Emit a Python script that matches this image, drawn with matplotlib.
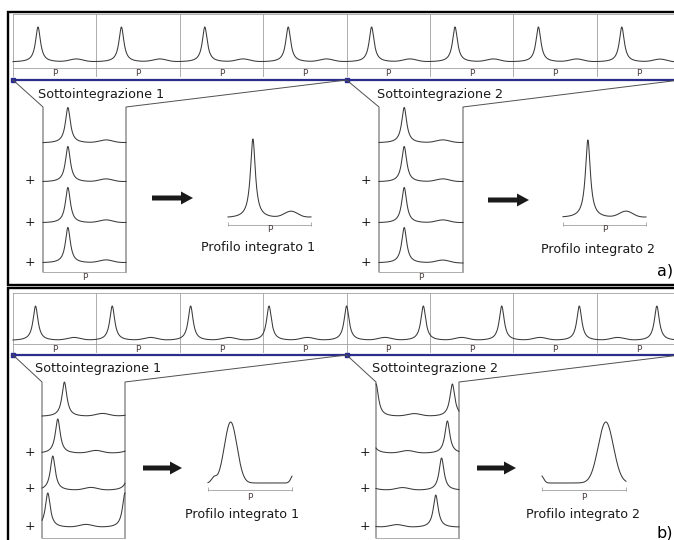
import numpy as np
import matplotlib
matplotlib.use('Agg')
from matplotlib import pyplot as plt

# pulse arrival times, in units of the folding period (one strip cell)
pulses_a = [0.30, 1.30, 2.30, 3.30, 4.30, 5.30, 6.30, 7.30]
pulses_b = [0.27, 1.19, 2.13, 3.07, 4.00, 4.92, 5.86, 6.79, 7.72]
peak_width = 0.036
hump_shift = 0.46
hump_height = 0.08
hump_sigma = 0.08

# integrated profiles of panel b: (center, sigma, height)
int_b1 = [(0.27, 0.075, 1.0), (0.07, 0.03, 0.08), (1.02, 0.03, 0.14)]
int_b2 = [(0.76, 0.09, 1.0), (-0.01, 0.03, 0.12)]

n_cells = 8
cells_per_sub = 4
sub_labels = ['Sottointegrazione 1', 'Sottointegrazione 2']
int_labels = ['Profilo integrato 1', 'Profilo integrato 2']
panel_labels = ['a)', 'b)']

W, H = 674, 540
CELL_W = 83.4
X0 = 13
CURVE = '#3a3a3a'
GRAY = '#a0a0a0'
BLUE = '#2b2d8e'
PCOL = '#4a3b3b'
PSIZE = 6.5

lay_a = dict(frame_top=12, frame_bot=285, strip_top=14, peak=27, base=62, axis=68,
             plab=73, div_bot=76, blue=80, text_y=98, text_x=[38, 377],
             box_x=[(43, 126), (379, 463)], box_top=107, box_bot=272,
             prof_base=[143, 182, 223, 263], prof_h=[35.5, 35.5], plus_x=[30, 366],
             arrow_x=[(152, 193), (488, 529)], arrow_y=[198, 200],
             int_x=[(228, 311), (563, 646)], int_base=217, int_peak=[139, 140],
             int_axis=225, int_plab=230, int_text=[(258, 251), (598, 253)],
             label_xy=(657, 276))
lay_b = dict(frame_top=287.5, frame_bot=560, strip_top=293, peak=306, base=340, axis=344,
             plab=349, div_bot=352, blue=355, text_y=372, text_x=[35, 372],
             box_x=[(42, 125), (376, 459)], box_top=382, box_bot=538,
             prof_base=[416, 453, 490, 527], prof_h=[34, 32], plus_x=[30, 365],
             arrow_x=[(143, 182), (477, 516)], arrow_y=[468, 468],
             int_x=[(208, 292), (542, 626)], int_base=483, int_peak=[422, 422],
             int_axis=490, int_plab=497, int_text=[(242, 518), (583, 518)],
             label_xy=(657, 537))

fig = plt.figure(figsize=(W / 100, H / 100), dpi=100)
bg = fig.add_axes([0, 0, 1, 1])
bg.set_xlim(0, W)
bg.set_ylim(H, 0)
bg.axis('off')


def signal(t, pulses):
    y = np.zeros_like(t)
    for p in pulses:
        y += 1.0 / (1.0 + ((t - p) / peak_width) ** 2)
        y += hump_height * np.exp(-0.5 * ((t - p - hump_shift) / hump_sigma) ** 2)
    return y


def box_axes(x0, x1, top, bottom, xlim):
    ax = fig.add_axes([x0 / W, 1 - bottom / H, (x1 - x0) / W, (bottom - top) / H])
    ax.set_xlim(xlim)
    ax.set_ylim(0, 1)
    ax.axis('off')
    return ax


def draw_panel(lay, pulses, int_comps):
    # outer frame
    bg.plot([690, 8, 8, 690], [lay['frame_top'], lay['frame_top'], lay['frame_bot'], lay['frame_bot']],
            color='k', lw=1.7, solid_joinstyle='miter')

    t = np.linspace(0, n_cells, 4000)
    y = signal(t, pulses)
    lo, hi = y.min(), y.max()

    # long time series strip
    x_end = X0 + n_cells * CELL_W
    bg.plot([X0, x_end], [lay['strip_top']] * 2, color=GRAY, lw=0.6)
    bg.plot([X0, x_end], [lay['axis']] * 2, color=GRAY, lw=0.6)
    for i in range(n_cells + 1):
        xd = X0 + i * CELL_W
        bg.plot([xd, xd], [lay['strip_top'], lay['div_bot']], color=GRAY, lw=0.6)
        if i < n_cells:
            bg.text(xd + CELL_W / 2, lay['plab'], 'P', fontsize=PSIZE, color=PCOL,
                    ha='center', va='center')
    ax = box_axes(X0, x_end, lay['peak'], lay['base'], (0, n_cells))
    ax.plot(t, (y - lo) / (hi - lo), color=CURVE, lw=0.75, clip_on=False)

    bg.plot([X0, x_end], [lay['blue']] * 2, color=BLUE, lw=1.6)
    bg.plot([X0, X0 + cells_per_sub * CELL_W], [lay['blue']] * 2, 's', ms=3.5, color=BLUE)

    for s in range(2):
        bx0, bx1 = lay['box_x'][s]
        left = X0 + s * cells_per_sub * CELL_W
        right = X0 + (s + 1) * cells_per_sub * CELL_W
        # zoom lines and sub-integration box
        bg.plot([left, bx0, bx0], [lay['blue'], lay['box_top'], lay['box_bot']], color='#505050', lw=0.7)
        bg.plot([right, bx1, bx1], [lay['blue'], lay['box_top'], lay['box_bot']], color='#505050', lw=0.7)
        bg.plot([bx0, bx1], [lay['box_bot']] * 2, color=GRAY, lw=0.6)
        if lay['box_bot'] + 8 < H:
            bg.text((bx0 + bx1) / 2, lay['box_bot'] + 5, 'P', fontsize=PSIZE, color=PCOL,
                    ha='center', va='center')
        bg.text(lay['text_x'][s], lay['text_y'], sub_labels[s], fontsize=9.2, color='#1a1a1a',
                ha='left', va='baseline')

        for j in range(cells_per_sub):
            k = s * cells_per_sub + j
            base = lay['prof_base'][j]
            sax = box_axes(bx0, bx1, base - lay['prof_h'][s], base, (k, k + 1))
            tk = np.linspace(k, k + 1, 800)
            sax.plot(tk, (signal(tk, pulses) - lo) / (hi - lo), color=CURVE, lw=0.75, clip_on=False)
            if j > 0:
                bg.text(lay['plus_x'][s], base - 1, '+', fontsize=9, color='#1a1a1a',
                        ha='center', va='center')

        ax0, ax1 = lay['arrow_x'][s]
        bg.arrow(ax0, lay['arrow_y'][s], ax1 - ax0, 0, width=5, head_width=13, head_length=12,
                 length_includes_head=True, fc='#1a1a1a', ec='none')

        # integrated profile
        ix0, ix1 = lay['int_x'][s]
        ph = np.linspace(0, 1, 800)
        if int_comps is None:
            yi = sum(signal(k + ph, pulses) for k in range(s * cells_per_sub, (s + 1) * cells_per_sub))
        else:
            yi = np.zeros_like(ph)
            for c, sg, h in int_comps[s]:
                yi += h * np.exp(-0.5 * ((ph - c) / sg) ** 2)
        iax = box_axes(ix0, ix1, lay['int_peak'][s], lay['int_base'], (0, 1))
        iax.plot(ph, (yi - yi.min()) / (yi.max() - yi.min()), color=CURVE, lw=0.75, clip_on=False)
        bg.plot([ix0, ix1], [lay['int_axis']] * 2, color=GRAY, lw=0.6)
        bg.plot([ix0, ix1], [lay['int_axis'] - 1] * 2, '|', ms=3, mew=0.6, color=GRAY)
        bg.text((ix0 + ix1) / 2, lay['int_plab'], 'P', fontsize=PSIZE, color=PCOL,
                ha='center', va='center')
        tx, ty = lay['int_text'][s]
        bg.text(tx, ty, int_labels[s], fontsize=9.1, color='#1a1a1a', ha='center', va='baseline')


draw_panel(lay_a, pulses_a, None)
draw_panel(lay_b, pulses_b, [int_b1, int_b2])
bg.text(lay_a['label_xy'][0], lay_a['label_xy'][1], panel_labels[0], fontsize=11.5, ha='left', va='baseline')
bg.text(lay_b['label_xy'][0], lay_b['label_xy'][1], panel_labels[1], fontsize=11.5, ha='left', va='baseline')

fig.savefig('out.png', dpi=100)
